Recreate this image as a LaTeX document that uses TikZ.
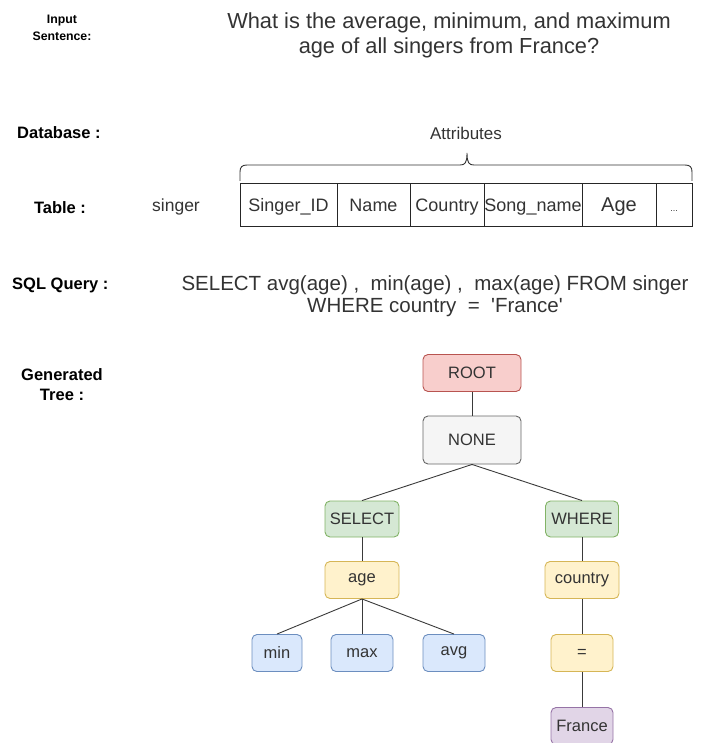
\documentclass[tikz,border=0pt]{standalone}
\usepackage{fontspec}
\setmainfont{Liberation Sans}
\definecolor{txt}{HTML}{333333}
\definecolor{edge}{HTML}{3A3A3A}
\definecolor{redF}{HTML}{F8CECC}\definecolor{redD}{HTML}{B85450}
\definecolor{grayF}{HTML}{F5F5F5}\definecolor{grayD}{HTML}{666666}
\definecolor{greenF}{HTML}{D5E8D4}\definecolor{greenD}{HTML}{82B366}
\definecolor{yelF}{HTML}{FFF2CC}\definecolor{yelD}{HTML}{D6B656}
\definecolor{blueF}{HTML}{DAE8FC}\definecolor{blueD}{HTML}{6C8EBF}
\definecolor{purF}{HTML}{E1D5E7}\definecolor{purD}{HTML}{9673A6}
\begin{document}
\begin{tikzpicture}[x=1pt,y=-1pt,
  tn/.style={draw, rounded corners=5pt, line width=0.9pt, text=txt,
    font=\fontsize{16.5}{19}\selectfont, inner sep=0pt, minimum height=37pt},
  rednode/.style={tn, fill=redF, draw=redD},
  graynode/.style={tn, fill=grayF, draw=grayD},
  greennode/.style={tn, fill=greenF, draw=greenD},
  yelnode/.style={tn, fill=yelF, draw=yelD},
  bluenode/.style={tn, fill=blueF, draw=blueD},
  purnode/.style={tn, fill=purF, draw=purD},
  lbl/.style={font=\bfseries\fontsize{16.5}{20}\selectfont, align=center, inner sep=0pt},
  cell/.style={draw=black!85, line width=0.9pt, minimum height=43pt, inner sep=0pt,
    outer sep=0pt, text height=15.5pt, text depth=1.5pt,
    anchor=north west, text=txt, font=\fontsize{18}{20}\selectfont},
  plain/.style={text=txt, inner sep=0pt, align=center},
  conn/.style={draw=edge, line width=0.9pt}]
\useasboundingbox (0,0) rectangle (708,743);

% labels
\node[lbl, font=\bfseries\fontsize{12.3}{17}\selectfont] (lin) at (62,28) {Input\\Sentence:};
\node[plain, font=\fontsize{21.8}{25}\selectfont] (q) at (449,35) {What is the average, minimum, and maximum\\age of all singers from France?};
\node[lbl, anchor=west] (ldb) at (17,133) {Database :};
\node[lbl] (ltab) at (60,208) {Table :};
\node[plain, font=\fontsize{17.5}{20}\selectfont] (sing) at (176,207) {singer};
\node[lbl, anchor=west] (lsql) at (12,285) {SQL Query :};
\node[lbl] (lgen) at (62,385) {Generated\\Tree :};

% attributes + brace
\node[plain, font=\fontsize{17}{20}\selectfont] (attr) at (466,133) {Attributes};
\draw[draw=black!80, line width=0.9pt] (240,181) -- (240,172)
  .. controls (240,167) and (242,165) .. (247,165) -- (460,165)
  .. controls (465,165) and (467,163) .. (467,153)
  .. controls (467,163) and (469,165) .. (474,165) -- (685,165)
  .. controls (690,165) and (692,167) .. (692,172) -- (692,181);

% table
\node[cell, minimum width=97pt] (c1) at (240,183) {Singer\_ID};
\node[cell, minimum width=73pt] (c2) at (c1.north east) {Name};
\node[cell, minimum width=74pt] (c3) at (c2.north east) {Country};
\node[cell, minimum width=98pt] (c4) at (c3.north east) {Song\_name};
\node[cell, minimum width=74pt, font=\fontsize{20}{22}\selectfont] (c5) at (c4.north east) {Age};
\node[cell, minimum width=36pt, font=\fontsize{9}{10}\selectfont] (c6) at (c5.north east) {...};

% SQL
\node[plain, font=\fontsize{20.5}{22}\selectfont] (sql) at (435,296) {SELECT avg(age) ,\ \ min(age) ,\ \ max(age) FROM singer\\WHERE country\ \ =\ \ \textquotesingle France\textquotesingle};

% tree
\node[rednode, minimum width=98pt] (root) at (472,373) {ROOT};
\node[graynode, minimum width=98pt, minimum height=48pt] (none) at (472,440) {NONE};
\node[greennode, minimum width=74pt, minimum height=36pt] (sel) at (362,519) {SELECT};
\node[greennode, minimum width=73pt, minimum height=36pt] (whr) at (582,519) {WHERE};
\node[yelnode, minimum width=74pt] (age) at (362,580) {age};
\node[yelnode, minimum width=74pt] (ctry) at (582,580) {country};
\node[bluenode, minimum width=50pt] (mn) at (277,653) {min};
\node[bluenode, minimum width=62pt] (mx) at (362,653) {max};
\node[bluenode, minimum width=62pt] (av) at (454,653) {avg};
\node[yelnode, minimum width=62pt] (eq) at (582,653) {=};
\node[purnode, minimum width=62pt] (fr) at (582,726) {France};

\draw[conn] (root.south) -- (none.north);
\draw[conn] (none.south) -- (sel.north);
\draw[conn] (none.south) -- (whr.north);
\draw[conn] (sel.south) -- (age.north);
\draw[conn] (age.south) -- (mn.north);
\draw[conn] (age.south) -- (mx.north);
\draw[conn] (age.south) -- (av.north);
\draw[conn] (whr.south) -- (ctry.north);
\draw[conn] (ctry.south) -- (eq.north);
\draw[conn] (eq.south) -- (fr.north);
\end{tikzpicture}
\end{document}
